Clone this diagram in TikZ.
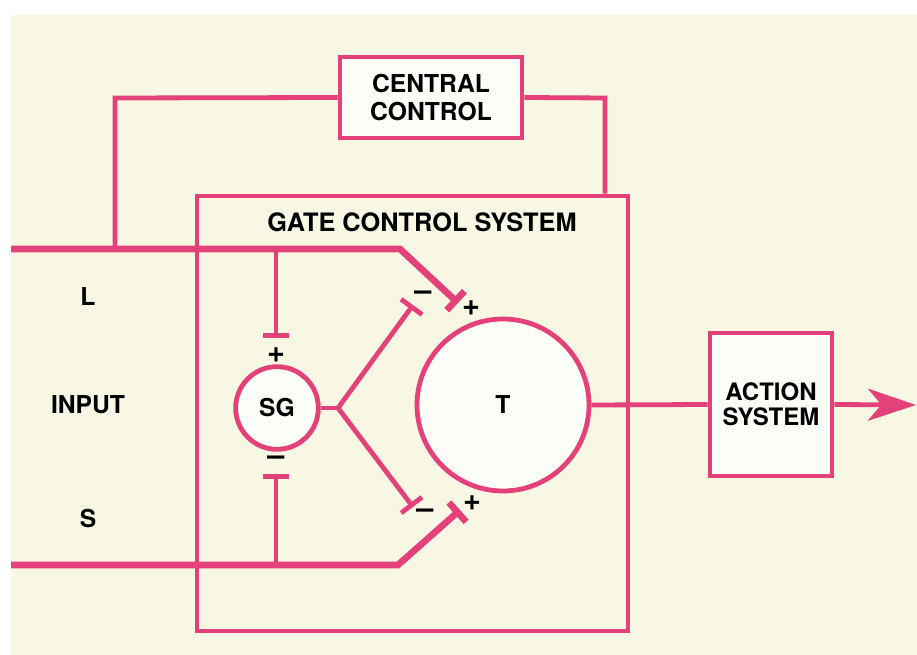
\documentclass[tikz,border=0pt]{standalone}
\usepackage{fontspec}
\setmainfont{TeX Gyre Heros}
\usetikzlibrary{arrows.meta,positioning}
\definecolor{gatepink}{RGB}{228,64,122}
\definecolor{paper}{RGB}{247,247,228}
\definecolor{boxwhite}{RGB}{253,253,248}

\begin{document}
\begin{tikzpicture}[x=0.75pt, y=-0.75pt, font=\bfseries\fontsize{18.5}{21}\selectfont,
	wire/.style={draw=gatepink, line width=3.6pt},
	input/.style={draw=gatepink, line width=5pt},
	block/.style={rectangle, draw=gatepink, line width=3.6pt, fill=boxwhite, align=center, inner sep=0pt},
	cell/.style={circle, draw=gatepink, line width=3.6pt, fill=boxwhite, inner sep=0pt},
	sign/.style={inner sep=0pt, font=\bfseries\fontsize{23}{23}\selectfont},
	tip/.style={-{Bar[width=19.5pt]}}]

	% Background
	\fill[paper] (11,15) rectangle (917,655);
	\useasboundingbox (0,0) rectangle (917,655);

	% Nodes
	\node[block, minimum width=136.5pt, minimum height=60.75pt] (cc) at (431,97.5) {CENTRAL\\CONTROL};
	\node[block, fill=none, minimum width=323.25pt, minimum height=326.25pt] (gcs) at (412.5,413.5) {};
	\node[font=\bfseries\fontsize{19}{21}\selectfont] (title) at (422,222) {GATE CONTROL SYSTEM};
	\node[block, minimum width=91.5pt, minimum height=107.25pt, font=\bfseries\fontsize{18}{19}\selectfont] (as) at (771,404.5) {ACTION\\SYSTEM};
	\node (lin) at (88,297) {L};
	\node (input) at (88,405) {INPUT};
	\node (sin) at (88,519) {S};

	% Fixed points
	\coordinate (lstart) at (11,249);
	\coordinate (lbend) at (400,249);
	\coordinate (lend) at (458,303);
	\coordinate (sstart) at (11,565);
	\coordinate (sbend) at (398,565);
	\coordinate (send) at (460,510);
	\coordinate (ltap) at (115,249);
	\coordinate (fbl) at (115,98);
	\coordinate (fbr) at (605,98);
	\coordinate (fork) at (338,408);
	\coordinate (forkup) at (413,305);
	\coordinate (forkdn) at (413,507);
	\coordinate (sgtop) at (276,338);
	\coordinate (sgbot) at (276,474);
	\coordinate (out) at (916,405);

	% Connections
	\draw[input, tip] (lstart) -- (lbend) -- (lend);
	\draw[input, tip] (sstart) -- (sbend) -- (send);
	\draw[wire] (ltap) -- (fbl) -- (cc.west);
	\draw[wire] (cc.east) -- (fbr) -- (fbr |- gcs.north);
	\draw[wire, tip] (sgtop |- lstart) -- (sgtop);
	\draw[wire, tip] (sgbot |- sstart) -- (sgbot);
	\draw[wire, tip] (fork) -- (forkup);
	\draw[wire, tip] (fork) -- (forkdn);

	% Cells
	\node[cell, minimum size=62pt] (sg) at (277,408) {SG};
	\node[cell, minimum size=129pt] (t) at (503,405) {T};
	\draw[wire] (sg.east) -- (fork);
	\draw[wire] (t.east) -- (as.west);
	\draw[wire, -{Stealth[length=36pt, width=24pt, inset=10pt]}] (as.east) -- (out);

	% Signs
	\node[sign] (sgplus) at (276,355) {+};
	\node[sign] (sgminus) at (276,461) {–};
	\node[sign] (upminus) at (423,296) {–};
	\node[sign] (lplus) at (471,308) {+};
	\node[sign] (dnminus) at (425,514) {–};
	\node[sign] (splus) at (472,503) {+};
\end{tikzpicture}
\end{document}
